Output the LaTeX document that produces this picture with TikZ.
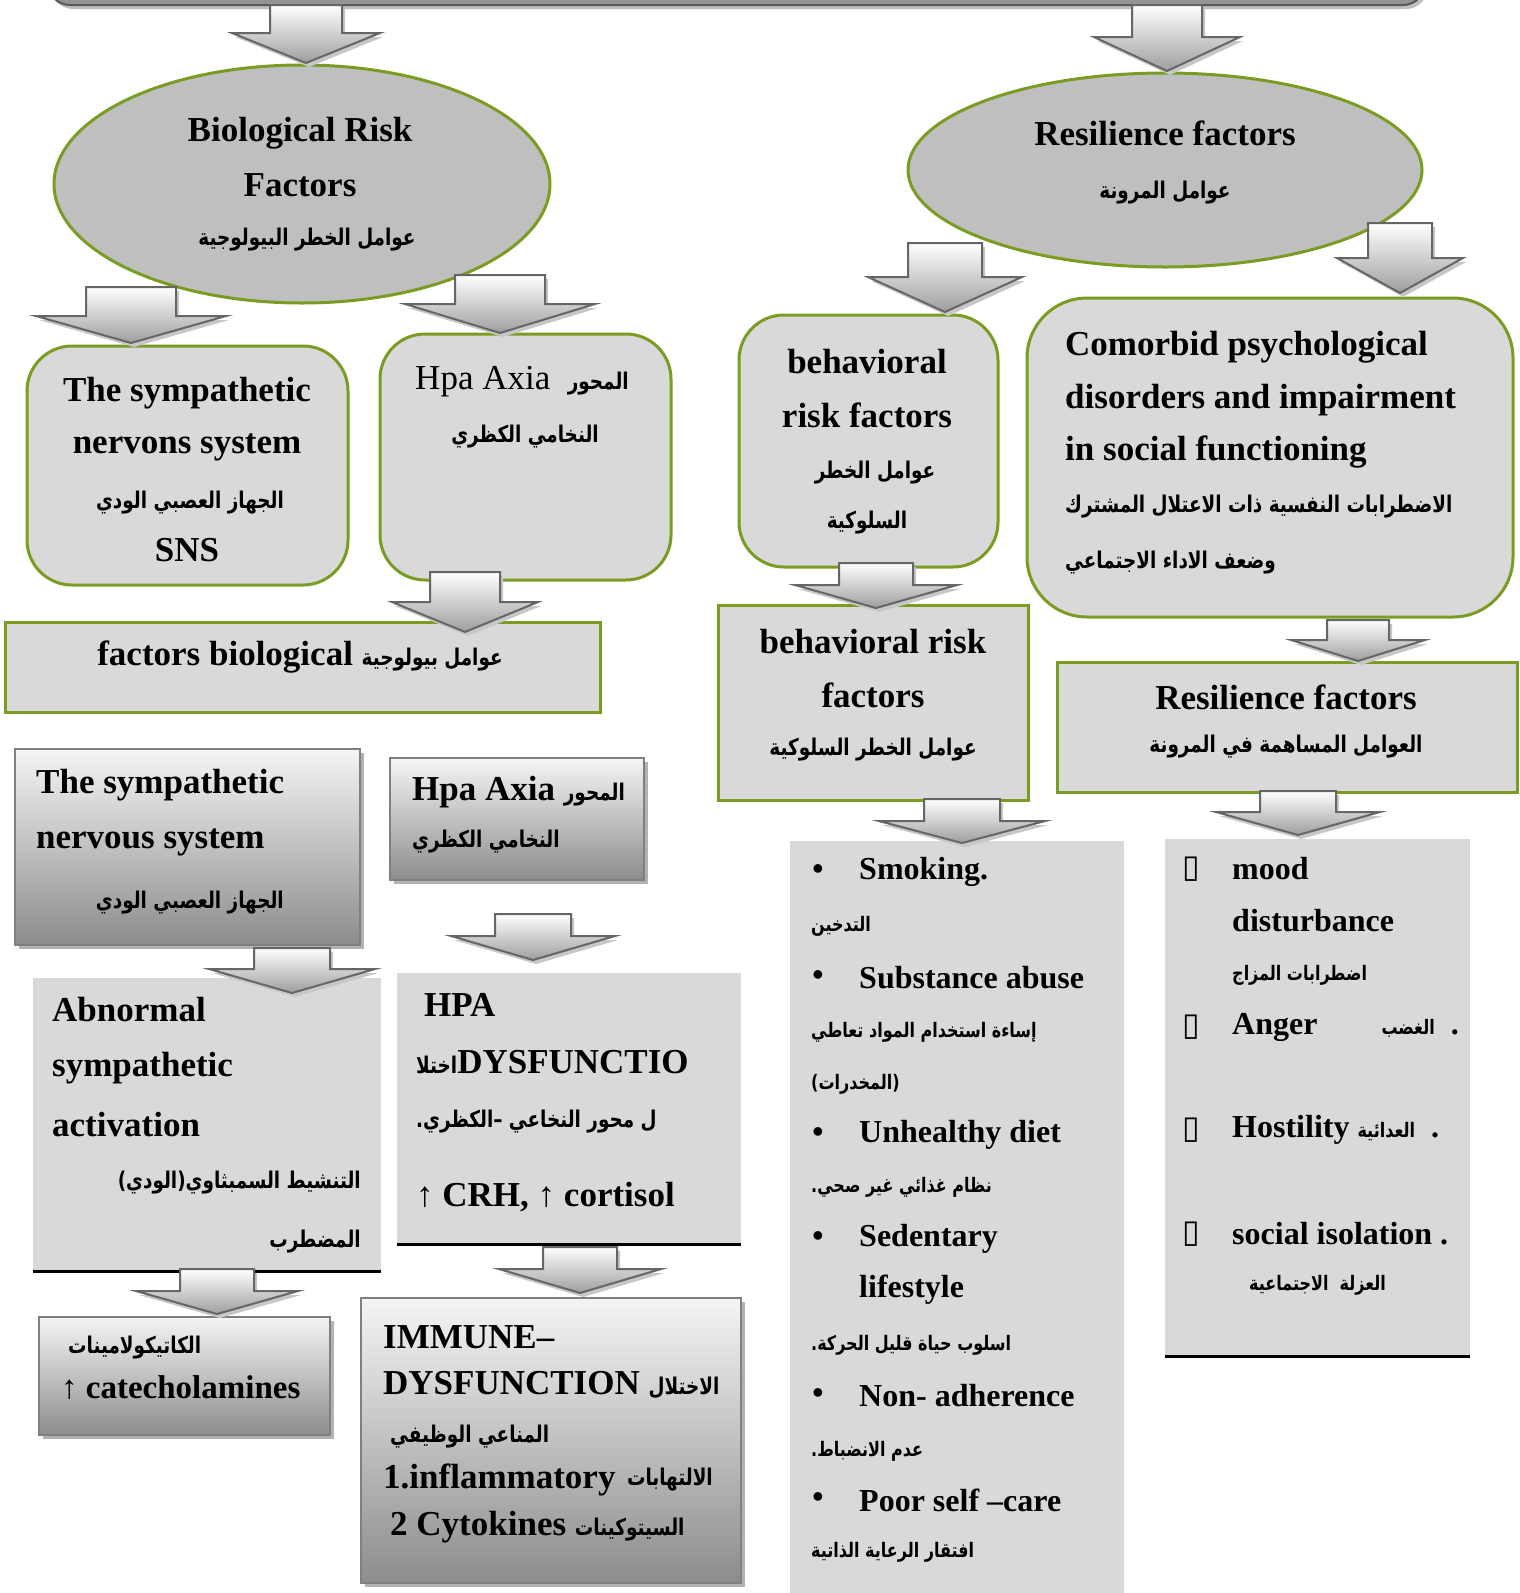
\documentclass[tikz,border=0pt]{standalone}
\usepackage{fontspec}
\setmainfont{Liberation Serif}
\newfontfamily\arabicfont[Script=Arabic, FakeStretch=0.8]{DejaVu Sans}
\newfontfamily\symbfont{DejaVu Sans}
\TeXXeTstate=1
\usetikzlibrary{shapes.geometric,shadows}

\definecolor{leafgreen}{RGB}{122,156,34}
\definecolor{ovalgray}{RGB}{191,191,191}
\definecolor{boxgray}{RGB}{217,217,217}

% arabic text, boxes and lists
\newcommand{\artxt}[1]{{\arabicfont\bfseries\fontsize{23}{27}\selectfont\beginR #1\endR}}
\newcommand{\arlist}[1]{{\arabicfont\bfseries\fontsize{20}{24}\selectfont\beginR #1\endR}}

% block arrow: x, top, neck, tip, half shaft, half head
\newcommand{\arrowpath}[6]{({#1-#5},#2) -- ({#1+#5},#2) -- ({#1+#5},#3) -- ({#1+#6},#3) -- (#1,#4) -- ({#1-#6},#3) -- ({#1-#5},#3) -- cycle}
\newcommand{\bigarrow}[6]{%
	\fill[black!22, xshift=3pt, yshift=-4pt] \arrowpath{#1}{#2}{#3}{#4}{#5}{#6};
	\draw[blockarrow] \arrowpath{#1}{#2}{#3}{#4}{#5}{#6};}

\tikzset{
	greenedge/.style={draw=leafgreen, line width=3pt},
	ovalnode/.style={ellipse, greenedge, fill=ovalgray, inner sep=0pt},
	roundbox/.style={rectangle, rounded corners=45pt, greenedge, fill=boxgray},
	flatbox/.style={rectangle, greenedge, fill=boxgray},
	shadebox/.style={rectangle, draw=black!50, line width=2pt, top color=black!4, bottom color=black!45,
		drop shadow={shadow xshift=4pt, shadow yshift=-4pt, fill=black!30, opacity=1}},
	plainbox/.style={rectangle, fill=boxgray},
	underrule/.style={line width=3pt, black},
	blockarrow/.style={draw=black!60, line width=2pt, top color=white, bottom color=black!38, line join=miter},
	lbl/.style={inner sep=0pt, font=\fontsize{35}{40}\selectfont\bfseries},
	lstlbl/.style={inner sep=0pt, font=\fontsize{32}{38}\selectfont\bfseries}
}

\begin{document}
\begin{tikzpicture}[x=1pt, y=-1pt]
	\useasboundingbox (0,0) rectangle (1520,1593);
	\fill[white] (0,0) rectangle (1520,1593);
	\clip (0,0) rectangle (1520,1593);

	% banner at the top
	\node[rectangle, rounded corners=22pt, fill=black!42, draw=black!65, line width=2pt,
		drop shadow={shadow xshift=3pt, shadow yshift=-4pt, fill=black!25, opacity=1},
		minimum width=1377pt, minimum height=80pt] (banner) at (736.5,-35) {};

	% ovals
	\node[ovalnode, minimum width=496pt, minimum height=238pt] (bioval) at (302,184) {};
	\node[ovalnode, minimum width=514pt, minimum height=194pt] (resoval) at (1165,170) {};

	% green boxes
	\node[roundbox, minimum width=321pt, minimum height=239pt] (snsbox) at (187.5,465.5) {};
	\node[roundbox, minimum width=291pt, minimum height=246pt] (hpabox) at (525.5,457) {};
	\node[roundbox, minimum width=259pt, minimum height=252pt] (behbox) at (868.5,441) {};
	\node[roundbox, rounded corners=60pt, minimum width=486pt, minimum height=319pt] (combox) at (1270,457.5) {};
	\node[flatbox, minimum width=595pt, minimum height=90pt] (biofact) at (302.5,667) {};
	\node[flatbox, minimum width=310pt, minimum height=195pt] (behfact) at (873,702.5) {};
	\node[flatbox, minimum width=460pt, minimum height=130pt] (resfact) at (1287,727) {};

	% lower boxes
	\node[shadebox, minimum width=345pt, minimum height=196pt] (snsshade) at (187.5,847) {};
	\node[shadebox, minimum width=254pt, minimum height=122pt] (hpashade) at (517,819) {};
	\node[plainbox, minimum width=348pt, minimum height=293pt] (abnbox) at (207,1124.5) {};
	\node[plainbox, minimum width=344pt, minimum height=271pt] (dysbox) at (569,1108.5) {};
	\node[shadebox, minimum width=291pt, minimum height=118pt] (catbox) at (184.5,1376) {};
	\node[shadebox, minimum width=380pt, minimum height=285pt] (immbox) at (551,1440.5) {};
	\node[plainbox, minimum width=334pt, minimum height=760pt] (behlist) at (957,1221) {};
	\node[plainbox, minimum width=305pt, minimum height=517pt] (reslist) at (1317.5,1097.5) {};
	\draw[underrule] (abnbox.south west) -- (abnbox.south east);
	\draw[underrule] (dysbox.south west) -- (dysbox.south east);
	\draw[underrule] (reslist.south west) -- (reslist.south east);

	% texts of the ovals
	\node[lbl] (bio1) at (300,133) {Biological Risk};
	\node[lbl] (bio2) at (300,185) {Factors};
	\node[lbl] (bio3) at (307,240) {\artxt{عوامل الخطر البيولوجية}};
	\node[lbl] (res1) at (1165,133) {Resilience factors};
	\node[lbl] (res2) at (1165,193) {\artxt{عوامل المرونة}};

	% texts of the green boxes
	\node[lbl] (sns1) at (187,393) {The sympathetic};
	\node[lbl] (sns2) at (187,447) {nervons system};
	\node[lbl] (sns3) at (190,503) {\artxt{الجهاز العصبي الودي}};
	\node[lbl] (sns4) at (187,550) {SNS};
	\node[lbl] (hpa1) at (522,382) {\mdseries Hpa Axia\ \ \artxt{المحور}};
	\node[lbl] (hpa2) at (525,437) {\artxt{النخامي الكظري}};
	\node[lbl] (bf1) at (300,657) {factors biological \artxt{عوامل بيولوجية}};
	\node[lbl] (beh1) at (867,362) {behavioral};
	\node[lbl] (beh2) at (867,415) {risk factors};
	\node[lbl] (beh3) at (875,473) {\artxt{عوامل الخطر}};
	\node[lbl] (beh4) at (867,523) {\artxt{السلوكية}};
	\node[lbl, anchor=west] (com1) at (1065,347) {Comorbid psychological};
	\node[lbl, anchor=west] (com2) at (1065,400) {disorders and impairment};
	\node[lbl, anchor=west] (com3) at (1065,452) {in social functioning};
	\node[lbl, anchor=west] (com4) at (1065,507) {\artxt{الاضطرابات النفسية ذات الاعتلال المشترك}};
	\node[lbl, anchor=west] (com5) at (1065,563) {\artxt{وضعف الاداء الاجتماعي}};
	\node[lbl] (bf2) at (873,642) {behavioral risk};
	\node[lbl] (bf3) at (873,695) {factors};
	\node[lbl] (bf4) at (873,750) {\artxt{عوامل الخطر السلوكية}};
	\node[lbl] (rf1) at (1286,697) {Resilience factors};
	\node[lbl] (rf2) at (1286,747) {\artxt{العوامل المساهمة في المرونة}};

	% texts of the lower boxes
	\node[lbl, anchor=west] (sh1) at (36,785) {The sympathetic};
	\node[lbl, anchor=west] (sh2) at (36,842) {nervous system};
	\node[lbl, anchor=east] (sh3) at (284,903) {\artxt{الجهاز العصبي الودي}};
	\node[lbl, anchor=west] (hs1) at (412,792) {Hpa Axia \artxt{المحور}};
	\node[lbl, anchor=west] (hs2) at (412,842) {\artxt{النخامي الكظري}};
	\node[lbl, anchor=west] (ab1) at (52,1010) {Abnormal};
	\node[lbl, anchor=west] (ab2) at (52,1068) {sympathetic};
	\node[lbl, anchor=west] (ab3) at (52,1125) {activation};
	\node[lbl, anchor=east] (ab4) at (361,1183) {\artxt{التنشيط السمبثاوي(الودي)}};
	\node[lbl, anchor=east] (ab5) at (361,1242) {\artxt{المضطرب}};
	\node[lbl, anchor=west] (dy1) at (424,1005) {HPA};
	\node[lbl, anchor=west] (dy2) at (416,1062) {\artxt{اختلا}DYSFUNCTIO};
	\node[lbl, anchor=west] (dy3) at (416,1122) {\artxt{ل محور النخاعي –الكظري.}};
	\node[lbl, anchor=west] (dy4) at (416,1197) {↑ CRH, ↑ cortisol};
	\node[lbl, anchor=west] (ca1) at (68,1348) {\artxt{الكاتيكولامينات}};
	\node[lbl, anchor=west, font=\fontsize{33}{38}\selectfont\bfseries] (ca2) at (61,1388) {↑ catecholamines};
	\node[lbl, anchor=west] (im1) at (383,1337) {IMMUNE–};
	\node[lbl, anchor=west] (im2) at (383,1385) {DYSFUNCTION \artxt{الاختلال}};
	\node[lbl, anchor=west] (im3) at (390,1437) {\artxt{المناعي الوظيفي}};
	\node[lbl, anchor=west] (im4) at (383,1480) {1.inflammatory};
	\node[lbl, anchor=east] (im5) at (713,1480) {\artxt{الالتهابات}};
	\node[lbl, anchor=west] (im6) at (390,1527) {2 Cytokines \artxt{السيتوكينات}};

	% behavioral list
	\node[lstlbl] (dot1) at (818,872) {•};
	\node[lstlbl, anchor=west] (it1) at (859,872) {Smoking.};
	\node[lstlbl, anchor=west] (ar1) at (811,926) {\arlist{التدخين}};
	\node[lstlbl] (dot2) at (818,978) {•};
	\node[lstlbl, anchor=west] (it2) at (859,978) {Substance abuse};
	\node[lstlbl, anchor=west] (ar2) at (811,1032) {\arlist{إساءة استخدام المواد تعاطي}};
	\node[lstlbl, anchor=west] (ar3) at (811,1084) {\arlist{(المخدرات)}};
	\node[lstlbl] (dot3) at (818,1135) {•};
	\node[lstlbl, anchor=west] (it3) at (859,1135) {Unhealthy diet};
	\node[lstlbl, anchor=west] (ar4) at (811,1187) {\arlist{نظام غذائي غير صحي.}};
	\node[lstlbl] (dot4) at (818,1239) {•};
	\node[lstlbl, anchor=west] (it4) at (859,1239) {Sedentary};
	\node[lstlbl, anchor=west] (it5) at (859,1290) {lifestyle};
	\node[lstlbl, anchor=west] (ar5) at (811,1345) {\arlist{اسلوب حياة قليل الحركة.}};
	\node[lstlbl] (dot5) at (818,1396) {•};
	\node[lstlbl, anchor=west] (it6) at (859,1396) {Non- adherence};
	\node[lstlbl, anchor=west] (ar6) at (811,1451) {\arlist{عدم الانضباط.}};
	\node[lstlbl] (dot6) at (818,1500) {•};
	\node[lstlbl, anchor=west] (it7) at (859,1500) {Poor self –care};
	\node[lstlbl, anchor=west] (ar7) at (811,1552) {\arlist{افتقار الرعاية الذاتية}};

	% resilience list
	\node[lstlbl] (sq1) at (1191,869) {\symbfont ▯};
	\node[lstlbl, anchor=west] (mo1) at (1232,869) {mood};
	\node[lstlbl, anchor=west] (mo2) at (1232,921) {disturbance};
	\node[lstlbl, anchor=west] (mo3) at (1232,975) {\arlist{اضطرابات المزاج}};
	\node[lstlbl] (sq2) at (1191,1027) {\symbfont ▯};
	\node[lstlbl, anchor=west] (mo4) at (1232,1027) {Anger\hspace{64pt}\arlist{الغضب}\ \ .};
	\node[lstlbl] (sq3) at (1191,1130) {\symbfont ▯};
	\node[lstlbl, anchor=west] (mo5) at (1232,1130) {Hostility \arlist{العدائية}\hspace{16pt}.};
	\node[lstlbl] (sq4) at (1191,1234) {\symbfont ▯};
	\node[lstlbl, anchor=west] (mo6) at (1232,1234) {social isolation .};
	\node[lstlbl, anchor=west] (mo7) at (1249,1285) {\arlist{العزلة\ \ الاجتماعية}};

	% block arrows
	\bigarrow{306}{5}{33}{63}{36}{74}
	\bigarrow{1167}{5}{37}{71}{35}{73}
	\bigarrow{131}{287}{316}{343}{45}{95}
	\bigarrow{500}{275}{304}{333}{45}{95}
	\bigarrow{945}{243}{277}{312}{37}{77}
	\bigarrow{1400}{223}{258}{293}{32}{63}
	\bigarrow{465}{572}{602}{632}{35}{73}
	\bigarrow{876}{563}{585}{608}{37}{81}
	\bigarrow{1358}{620}{640}{661}{31}{67}
	\bigarrow{962}{799}{821}{843}{38}{83}
	\bigarrow{292}{948}{969}{993}{38}{83}
	\bigarrow{533}{914}{936}{960}{38}{82}
	\bigarrow{217}{1269}{1291}{1314}{37}{81}
	\bigarrow{580}{1247}{1269}{1293}{37}{81}
	\bigarrow{1298}{791}{812}{835}{38}{82}
\end{tikzpicture}
\end{document}
